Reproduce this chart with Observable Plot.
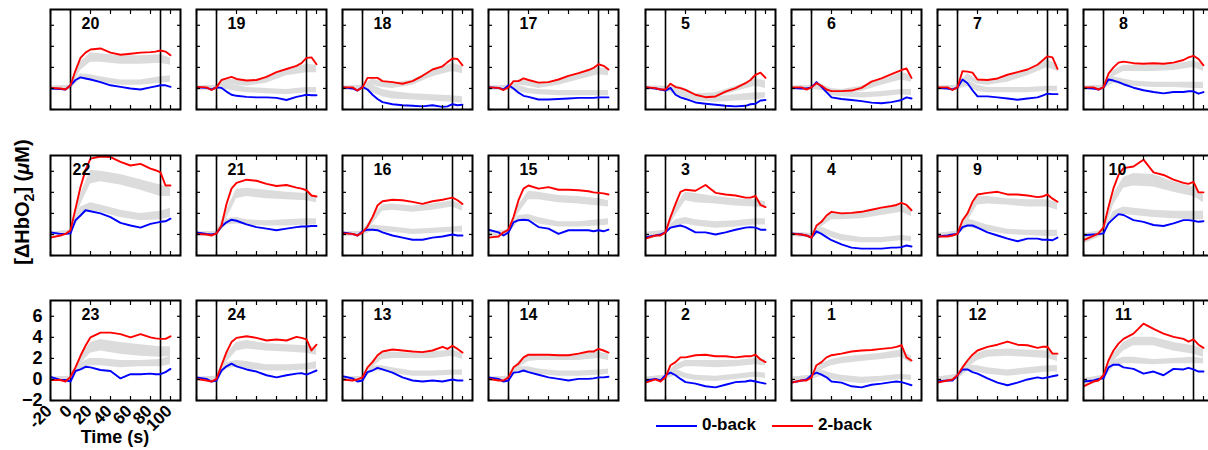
<!DOCTYPE html>
<html><head><meta charset="utf-8">
<script src="https://cdn.jsdelivr.net/npm/d3@7"></script>
<script src="https://cdn.jsdelivr.net/npm/@observablehq/plot@0.6"></script>
<style>
body{margin:0;background:#fff;font-family:"Liberation Sans",Arial,sans-serif;}
#chart{position:relative;width:1208px;height:450px;overflow:hidden;background:#fff;}
.panel{position:absolute;}
.lbl{position:absolute;font-weight:bold;color:#000;white-space:nowrap;}
</style></head><body><div id="chart"></div>
<script>
// ---- time grids (s) ----
const t = [-20,-10,-5,0,5,10,15,20,30,40,50,60,70,80,85,90,95,100];
const tBand = [-20,0,10,20,30,50,70,90,100];
const xTicks = [-20,0,20,40,60,80,100];
const yTicks = [-2,0,2,4,6];
const blockEdges = [0,90];
const panelOrder = [[20,19,18,17,5,6,7,8],[22,21,16,15,3,4,9,10],[23,24,13,14,2,1,12,11]];

// ---- row 1 ----
const red20=[0.05,0,-0.1,0.3,1.7,2.9,3.4,3.7,3.8,3.4,3.2,3.3,3.4,3.45,3.5,3.6,3.5,3.15];
const blue20=[0,-0.05,-0.1,0.3,0.8,1.05,0.95,0.85,0.6,0.3,0.15,0.0,-0.1,0.1,0.2,0.3,0.3,0.15];
const redLo20=[-0.2,-0.1,1.7,2.5,2.5,2.3,2.3,2.4,2.2], redHi20=[0.2,0.3,2.5,3.4,3.3,3.1,3.1,3.2,2.9];
const blueLo20=[-0.2,-0.1,0.9,0.8,0.6,0.3,0.3,0.5,0.6], blueHi20=[0.2,0.3,1.4,1.3,1.1,0.8,0.8,1.1,1.2];

const red19=[0.15,0.1,-0.15,0.1,0.8,0.95,1.1,0.9,0.75,0.8,1.1,1.55,1.85,2.15,2.4,2.9,2.95,2.3];
const blue19=[0.1,0.05,-0.1,0.1,0.05,-0.3,-0.6,-0.7,-0.8,-0.85,-0.85,-0.9,-1.1,-0.8,-0.7,-0.6,-0.65,-0.65];
const redLo19=[-0.2,-0.1,0.4,0.3,0.2,0.5,1.2,1.5,1.5], redHi19=[0.2,0.3,0.9,0.8,0.7,1.0,1.8,2.3,2.2];
const blueLo19=[-0.2,-0.1,-0.1,-0.3,-0.4,-0.5,-0.6,-0.4,-0.4], blueHi19=[0.2,0.3,0.4,0.3,0.1,0.0,-0.1,0.1,0.1];

const red18=[0.1,0.1,-0.2,0.1,1.0,1.0,1.0,0.7,0.6,0.45,0.7,1.2,1.8,2.1,2.5,2.85,2.8,2.2];
const blue18=[0.1,0,-0.2,0.15,-0.1,-0.6,-1.0,-1.3,-1.5,-1.6,-1.65,-1.7,-1.6,-1.75,-1.7,-1.5,-1.6,-1.55];
const redLo18=[-0.2,-0.1,0.3,0.1,0.0,0.3,1.1,1.6,1.4], redHi18=[0.2,0.3,0.9,0.6,0.5,0.8,1.7,2.4,2.1];
const blueLo18=[-0.2,-0.1,-0.4,-0.8,-1.0,-1.1,-1.2,-1.3,-1.4], blueHi18=[0.2,0.3,0.3,-0.1,-0.3,-0.5,-0.6,-0.7,-0.8];

const red17=[0.1,0.05,-0.15,0.1,0.7,0.7,0.95,0.8,0.55,0.6,0.85,1.2,1.45,1.75,1.95,2.3,2.15,1.8];
const blue17=[0.1,0.05,-0.1,0.3,0.0,-0.4,-0.7,-0.8,-1.05,-1.05,-1.0,-0.95,-0.9,-0.9,-0.9,-0.85,-0.85,-0.85];
const redLo17=[-0.2,-0.1,0.3,0.2,0.0,0.3,0.8,1.3,1.2], redHi17=[0.2,0.3,0.8,0.7,0.5,0.8,1.4,2.0,1.8];
const blueLo17=[-0.2,-0.1,-0.3,-0.5,-0.6,-0.7,-0.7,-0.7,-0.7], blueHi17=[0.2,0.3,0.3,0.0,-0.1,-0.2,-0.2,-0.2,-0.2];

const red5=[0.13,0.03,-0.1,-0.1,0.45,0.13,0.03,-0.13,-0.6,-0.83,-0.76,-0.3,0.03,0.5,0.8,1.3,1.5,1.0];
const blue5=[0.1,0,-0.1,-0.2,0.05,-0.6,-0.85,-1.0,-1.33,-1.45,-1.55,-1.65,-1.7,-1.65,-1.5,-1.45,-1.15,-1.1];
const redLo5=[-0.2,-0.2,-0.1,-0.4,-0.9,-0.9,-0.3,0.2,0.0], redHi5=[0.2,0.2,0.3,0.0,-0.5,-0.4,0.2,0.9,0.7];
const blueLo5=[-0.2,-0.2,-0.6,-0.9,-1.2,-1.3,-1.2,-1.1,-0.9], blueHi5=[0.2,0.2,-0.1,-0.4,-0.8,-0.8,-0.6,-0.4,-0.4];

const red6=[0.1,0.1,-0.1,0.1,0.5,0.25,-0.1,-0.25,-0.25,-0.2,0.05,0.65,0.95,1.35,1.55,1.75,1.9,1.0];
const blue6=[0.05,0,0,0.1,0.6,0.15,-0.35,-0.85,-1.0,-1.1,-1.2,-1.35,-1.4,-1.3,-1.2,-1.1,-0.85,-0.95];
const redLo6=[-0.2,-0.1,0.0,-0.4,-0.5,-0.3,0.3,0.8,0.6], redHi6=[0.2,0.3,0.4,0.0,-0.1,0.2,0.8,1.5,1.3];
const blueLo6=[-0.2,-0.1,-0.2,-0.7,-0.8,-0.9,-0.8,-0.6,-0.7], blueHi6=[0.2,0.3,0.4,-0.2,-0.3,-0.4,-0.3,-0.1,-0.1];

const red7=[0.1,0.1,-0.15,0.1,1.65,1.6,1.5,0.85,0.8,0.95,1.3,1.55,1.8,2.25,2.65,3.05,2.95,1.85];
const blue7=[0.05,0,-0.1,0.1,0.85,0.5,-0.17,-0.75,-0.75,-0.85,-0.95,-1.08,-0.95,-0.85,-0.68,-0.5,-0.54,-0.54];
const redLo7=[-0.2,-0.1,0.8,0.4,0.3,0.6,1.2,2.0,1.6], redHi7=[0.2,0.3,1.4,0.8,0.7,1.1,1.8,2.7,2.3];
const blueLo7=[-0.2,-0.1,0.2,-0.3,-0.4,-0.4,-0.4,-0.3,-0.3], blueHi7=[0.2,0.3,0.8,0.3,0.1,0.1,0.1,0.2,0.2];

const red8=[0.1,0.1,-0.1,0.1,1.4,2.0,2.45,2.55,2.4,2.35,2.4,2.35,2.45,2.7,2.95,3.1,2.8,2.2];
const blue8=[0.05,0,-0.1,0.1,0.85,0.75,0.6,0.4,0.07,-0.17,-0.34,-0.47,-0.34,-0.34,-0.27,-0.27,-0.5,-0.34];
const redLo8=[-0.2,-0.1,1.1,1.6,1.6,1.6,1.7,2.0,1.6], redHi8=[0.2,0.3,1.7,2.2,2.2,2.2,2.3,2.6,2.3];
const blueLo8=[-0.2,-0.1,0.5,0.3,0.2,0.1,0.1,0.0,0.0], blueHi8=[0.2,0.3,1.1,0.9,0.7,0.6,0.6,0.6,0.6];

// ---- row 2 ----
const red22=[-0.3,-0.1,0.05,0.4,2.45,4.5,6.1,7.2,7.4,7.35,6.9,6.55,6.7,6.25,6.1,5.9,4.65,4.65];
const blue22=[0.2,0.05,0.05,0.1,1.35,1.8,2.3,2.2,2.0,1.65,1.1,0.85,0.65,1.0,1.1,1.2,1.25,1.5];
const redLo22=[-0.3,0.0,2.8,4.8,5.0,4.7,4.2,3.6,3.6], redHi22=[0.2,0.4,3.8,6.1,6.0,5.7,5.2,4.7,4.4];
const blueLo22=[-0.2,0.0,1.7,2.3,2.1,1.6,1.3,1.4,1.6], blueHi22=[0.2,0.4,2.6,3.0,2.8,2.3,2.0,2.2,2.5];

const red21=[0.05,0,-0.1,0.1,0.85,2.9,4.35,4.9,5.2,5.1,4.8,4.6,4.7,4.45,4.35,4.2,3.7,3.6];
const blue21=[0.2,0.05,0,0.1,0.75,1.15,1.4,1.3,0.95,0.7,0.55,0.4,0.55,0.7,0.75,0.75,0.8,0.8];
const redLo21=[-0.2,-0.1,1.5,3.4,3.6,3.4,3.3,3.2,3.0], redHi21=[0.2,0.3,2.3,4.3,4.4,4.2,4.0,3.9,3.6];
const blueLo21=[-0.2,-0.1,0.9,1.0,0.9,0.8,0.8,0.9,0.9], blueHi21=[0.2,0.3,1.5,1.6,1.4,1.3,1.4,1.5,1.5];

const red16=[0.1,0.05,-0.1,0.2,0.75,1.65,2.75,3.15,3.3,3.25,3.1,2.9,3.15,3.3,3.4,3.5,3.25,2.9];
const blue16=[0.2,0.05,-0.1,0.3,0.45,0.45,0.4,0.2,-0.1,-0.3,-0.5,-0.5,-0.3,-0.2,-0.1,0,-0.1,-0.1];
const redLo16=[-0.2,-0.1,1.0,2.2,2.3,2.1,2.3,2.6,2.2], redHi16=[0.2,0.3,1.7,2.8,2.9,2.7,2.9,3.2,2.8];
const blueLo16=[-0.2,-0.1,0.3,0.2,0.2,0.0,0.1,0.2,0.2], blueHi16=[0.2,0.3,0.9,0.8,0.7,0.5,0.6,0.7,0.8];

const red15=[-0.3,-0.2,0.2,0.45,1.65,3.25,4.35,4.65,4.35,4.5,4.25,4.25,4.2,4.1,4.0,3.95,3.9,3.8];
const blue15=[0.45,0.2,-0.1,0.2,1.15,1.35,1.4,1.35,0.7,0.55,0.05,0.4,0.4,0.4,0.3,0.4,0.3,0.45];
const redLo15=[-0.3,0.0,2.0,3.3,3.3,3.0,2.9,2.7,2.6], redHi15=[0.2,0.4,2.8,4.1,4.0,3.7,3.6,3.4,3.2];
const blueLo15=[-0.2,0.0,1.2,1.3,1.0,0.7,0.7,0.8,0.9], blueHi15=[0.3,0.4,1.8,1.9,1.6,1.2,1.2,1.4,1.5];

const red3=[-0.4,-0.1,-0.1,0.2,1.65,2.9,4.05,4.25,4.15,4.7,3.95,3.8,3.7,3.5,3.5,3.65,2.8,2.6];
const blue3=[-0.25,-0.1,0,0.2,0.65,0.75,0.85,0.7,0.2,0.2,0,0.2,0.45,0.65,0.7,0.65,0.45,0.45];
const redLo3=[-0.4,0.0,1.8,3.2,3.0,2.9,2.7,2.6,2.5], redHi3=[0.1,0.4,2.7,4.0,3.9,3.6,3.4,3.3,3.1];
const blueLo3=[-0.3,0.0,0.8,1.0,0.8,0.6,0.7,0.9,0.9], blueHi3=[0.2,0.4,1.4,1.6,1.4,1.2,1.3,1.5,1.5];

const red4=[0.05,0,-0.1,-0.3,0.85,1.2,1.8,2.15,2.0,2.05,2.15,2.35,2.55,2.7,2.8,3.0,2.8,2.3];
const blue4=[0.1,0,-0.1,-0.3,0.3,0.05,-0.25,-0.55,-0.95,-1.25,-1.35,-1.35,-1.35,-1.25,-1.25,-1.2,-1.05,-1.15];
const redLo4=[-0.2,-0.3,0.7,1.4,1.4,1.5,1.8,2.1,1.7], redHi4=[0.2,0.1,1.3,2.0,2.0,2.1,2.4,2.8,2.3];
const blueLo4=[-0.2,-0.3,0.1,-0.3,-0.6,-0.8,-0.8,-0.6,-0.7], blueHi4=[0.2,0.1,0.7,0.3,0.0,-0.3,-0.3,-0.1,-0.2];

const red9=[-0.2,-0.2,-0.1,0.05,1.35,2.0,3.1,3.8,3.95,4.05,3.8,3.8,3.7,3.55,3.6,3.8,3.4,3.1];
const blue9=[-0.2,-0.1,0,0.05,0.7,0.85,0.85,0.65,0.2,-0.1,-0.4,-0.65,-0.4,-0.4,-0.5,-0.5,-0.55,-0.3];
const redLo9=[-0.3,-0.1,1.2,2.8,2.9,2.8,2.6,2.6,2.3], redHi9=[0.1,0.3,2.0,3.6,3.6,3.4,3.3,3.3,3.0];
const blueLo9=[-0.3,-0.1,0.7,0.5,0.3,0.0,-0.1,-0.2,-0.2], blueHi9=[0.1,0.3,1.5,1.2,0.9,0.5,0.4,0.4,0.4];

const red10=[-0.55,-0.13,0.1,0.67,2.6,4.4,5.65,6.3,6.45,7.1,5.9,5.65,5.2,4.9,4.8,5.0,4.0,4.0];
const blue10=[-0.07,0,0.03,0.1,1.05,1.5,1.93,1.85,1.36,1.2,0.9,0.8,1.05,1.36,1.36,1.3,1.2,1.25];
const redLo10=[-0.9,-0.1,2.8,4.4,4.6,4.5,4.0,3.6,3.0], redHi10=[-0.2,0.4,3.8,5.4,5.8,5.7,5.0,4.5,3.8];
const blueLo10=[-0.5,0.0,1.5,1.9,1.8,1.6,1.5,1.4,1.4], blueHi10=[0.1,0.4,2.2,2.6,2.5,2.3,2.2,2.2,2.2];

// ---- row 3 ----
const red23=[-0.06,-0.05,-0.2,0.25,1.15,2.25,3.2,4.0,4.45,4.45,4.3,4.0,4.3,4.0,3.9,3.85,3.85,4.1];
const blue23=[0.25,-0.05,-0.05,-0.2,0.8,0.95,1.2,1.15,0.9,0.8,0.1,0.5,0.5,0.55,0.5,0.5,0.7,1.0];
const redLo23=[-0.2,-0.1,1.5,2.5,2.7,2.4,2.2,2.1,2.2], redHi23=[0.2,0.3,2.2,3.5,3.8,3.5,3.3,3.1,3.1];
const blueLo23=[-0.2,-0.1,1.0,1.3,1.3,1.1,1.2,1.2,1.4], blueHi23=[0.2,0.3,1.6,2.0,2.0,1.8,1.8,1.9,2.2];

const red24=[0.05,-0.1,-0.2,0.05,1.35,2.6,3.55,3.95,4.1,3.95,3.7,3.8,3.7,4.05,3.95,3.8,2.75,3.3];
const blue24=[0.2,0.05,-0.2,-0.1,0.85,1.25,1.5,1.25,0.95,0.75,0.4,0.2,0.4,0.55,0.6,0.45,0.65,0.85];
const redLo24=[-0.2,-0.1,1.6,2.7,2.9,2.7,2.6,2.5,2.3], redHi24=[0.2,0.3,2.4,3.5,3.7,3.4,3.3,3.2,3.0];
const blueLo24=[-0.2,-0.1,1.0,1.2,1.0,0.8,0.8,0.9,1.0], blueHi24=[0.2,0.3,1.6,1.8,1.7,1.4,1.4,1.5,1.7];

const red13=[0,-0.1,0,0.2,1.15,1.65,2.3,2.65,2.85,2.75,2.65,2.6,2.75,3.1,2.9,3.2,2.9,2.55];
const blue13=[0.3,0.1,-0.2,-0.1,0.7,0.85,1.1,0.95,0.65,0.2,-0.1,-0.2,-0.1,-0.2,-0.1,0,-0.1,-0.1];
const redLo13=[-0.2,-0.1,1.2,1.9,2.0,2.0,2.0,2.2,1.9], redHi13=[0.2,0.3,1.8,2.5,2.6,2.5,2.6,2.8,2.5];
const blueLo13=[-0.2,-0.1,0.8,0.8,0.6,0.3,0.3,0.4,0.4], blueHi13=[0.2,0.3,1.3,1.3,1.1,0.8,0.8,0.9,0.9];

const red14=[0.05,-0.1,-0.1,0.2,1.15,1.5,2.1,2.35,2.35,2.35,2.3,2.3,2.45,2.65,2.65,2.9,2.75,2.55];
const blue14=[0.2,0.05,-0.2,-0.1,0.65,0.7,0.85,0.7,0.45,0.2,0.05,-0.1,0.05,0.05,0.1,0.2,0.2,0.25];
const redLo14=[-0.2,-0.1,1.1,1.7,1.8,1.8,1.8,2.0,1.8], redHi14=[0.2,0.3,1.7,2.3,2.3,2.3,2.4,2.6,2.4];
const blueLo14=[-0.2,-0.1,0.7,0.7,0.5,0.3,0.3,0.4,0.5], blueHi14=[0.2,0.3,1.2,1.2,1.0,0.8,0.8,0.9,1.0];

const red2=[-0.3,0,-0.2,0.2,1.35,1.65,2.1,2.1,2.3,2.35,2.2,2.2,2.1,2.2,2.2,2.35,1.9,1.65];
const blue2=[-0.1,0.05,-0.1,0.4,0.65,0.4,0.05,-0.25,-0.4,-0.65,-0.75,-0.5,-0.25,-0.2,-0.1,-0.2,-0.3,-0.4];
const redLo2=[-0.3,0.0,0.8,1.2,1.2,1.1,1.2,1.4,1.3], redHi2=[0.2,0.4,1.4,1.8,1.8,1.8,1.8,2.0,1.9];
const blueLo2=[-0.3,0.0,0.4,0.1,-0.1,-0.2,0.0,0.2,0.1], blueHi2=[0.2,0.4,1.0,0.6,0.4,0.3,0.5,0.7,0.6];

const red1=[-0.3,-0.1,-0.1,0.2,1.35,1.65,2.1,2.3,2.45,2.65,2.75,2.8,2.9,3.0,3.1,3.25,2.1,1.8];
const blue1=[-0.3,-0.1,0,0.4,0.65,0.45,0.2,-0.2,-0.3,-0.65,-0.75,-0.5,-0.4,-0.25,-0.2,-0.25,-0.4,-0.55];
const redLo1=[-0.3,0.0,0.9,1.3,1.5,1.7,1.9,2.1,1.5], redHi1=[0.2,0.4,1.5,1.9,2.1,2.3,2.5,2.8,2.2];
const blueLo1=[-0.3,0.0,0.3,0.0,-0.2,-0.4,-0.2,0.0,-0.1], blueHi1=[0.2,0.4,0.9,0.6,0.4,0.2,0.3,0.5,0.4];

const red12=[-0.3,-0.1,0,0.4,1.15,1.8,2.35,2.75,3.1,3.3,3.6,3.3,3.25,3.0,3.1,3.1,2.45,2.45];
const blue12=[-0.2,-0.1,-0.1,0.4,0.95,0.95,0.7,0.55,0.1,-0.3,-0.55,-0.3,0,0.2,0.1,0.2,0.3,0.4];
const redLo12=[-0.3,0.0,1.1,1.8,2.1,2.2,2.1,2.0,1.7], redHi12=[0.2,0.5,1.7,2.5,2.8,2.9,2.8,2.7,2.4];
const blueLo12=[-0.3,0.0,0.8,0.7,0.5,0.3,0.5,0.7,0.7], blueHi12=[0.2,0.5,1.4,1.3,1.1,0.9,1.1,1.3,1.3];

const red11=[-0.65,-0.2,-0.1,0.4,1.8,2.75,3.4,3.85,4.35,5.3,4.8,4.35,4.05,3.85,3.6,3.8,3.3,3.0];
const blue11=[-0.2,-0.1,0.05,0.1,1.15,1.4,1.4,1.15,1.0,0.55,0.75,0.4,1.0,0.95,1.1,0.95,0.75,0.75];
const redLo11=[-0.8,0.0,1.7,2.7,3.2,3.2,2.7,2.4,2.1], redHi11=[-0.1,0.4,2.4,3.5,4.0,4.0,3.5,3.2,2.9];
const blueLo11=[-0.4,0.0,1.2,1.5,1.5,1.4,1.5,1.5,1.5], blueHi11=[0.1,0.4,1.8,2.1,2.1,1.9,2.0,2.1,2.0];

// ---- assemble (lookup built from the arrays above) ----
const src = {
  20:[red20,blue20,redLo20,redHi20,blueLo20,blueHi20],19:[red19,blue19,redLo19,redHi19,blueLo19,blueHi19],
  18:[red18,blue18,redLo18,redHi18,blueLo18,blueHi18],17:[red17,blue17,redLo17,redHi17,blueLo17,blueHi17],
  5:[red5,blue5,redLo5,redHi5,blueLo5,blueHi5],6:[red6,blue6,redLo6,redHi6,blueLo6,blueHi6],
  7:[red7,blue7,redLo7,redHi7,blueLo7,blueHi7],8:[red8,blue8,redLo8,redHi8,blueLo8,blueHi8],
  22:[red22,blue22,redLo22,redHi22,blueLo22,blueHi22],21:[red21,blue21,redLo21,redHi21,blueLo21,blueHi21],
  16:[red16,blue16,redLo16,redHi16,blueLo16,blueHi16],15:[red15,blue15,redLo15,redHi15,blueLo15,blueHi15],
  3:[red3,blue3,redLo3,redHi3,blueLo3,blueHi3],4:[red4,blue4,redLo4,redHi4,blueLo4,blueHi4],
  9:[red9,blue9,redLo9,redHi9,blueLo9,blueHi9],10:[red10,blue10,redLo10,redHi10,blueLo10,blueHi10],
  23:[red23,blue23,redLo23,redHi23,blueLo23,blueHi23],24:[red24,blue24,redLo24,redHi24,blueLo24,blueHi24],
  13:[red13,blue13,redLo13,redHi13,blueLo13,blueHi13],14:[red14,blue14,redLo14,redHi14,blueLo14,blueHi14],
  2:[red2,blue2,redLo2,redHi2,blueLo2,blueHi2],1:[red1,blue1,redLo1,redHi1,blueLo1,blueHi1],
  12:[red12,blue12,redLo12,redHi12,blueLo12,blueHi12],11:[red11,blue11,redLo11,redHi11,blueLo11,blueHi11]
};

// ---- layout ----
const W = 130, H = 100, M = 4;
const colLefts = [50,196,342,488,645,791,937,1083];
const rowTops = [9,155,300];
const labelDx = {22:31, 10:34};
const RED = "#ff0000", BLUE = "#0000ff", GRAY = "#dcdcdc";
const font = '"Liberation Sans", Arial, sans-serif';

const chart = document.getElementById("chart");

function panel(id, showAxes) {
  const [r, b, rlo, rhi, blo, bhi] = src[id];
  const line = (vs) => t.map((tt, i) => ({t: tt, v: vs[i]}));
  const band = (lo, hi) => tBand.map((tt, i) => ({t: tt, lo: lo[i], hi: hi[i]}));
  const marks = [
    Plot.areaY(band(rlo, rhi), {x: "t", y1: "lo", y2: "hi", fill: GRAY, clip: true}),
    Plot.areaY(band(blo, bhi), {x: "t", y1: "lo", y2: "hi", fill: GRAY, clip: true}),
    Plot.ruleX(blockEdges, {stroke: "black", strokeWidth: 1.6}),
    Plot.lineY(line(b), {x: "t", y: "v", stroke: BLUE, strokeWidth: 1.9, clip: true}),
    Plot.lineY(line(r), {x: "t", y: "v", stroke: RED, strokeWidth: 1.9, clip: true}),
    Plot.axisX(xTicks, {anchor: "bottom", tickSize: -4, fill: "none", stroke: "black", strokeWidth: 1.2}),
    Plot.axisX(xTicks, {anchor: "top", tickSize: -4, fill: "none", stroke: "black", strokeWidth: 1.2}),
    Plot.axisY(yTicks, {anchor: "left", tickSize: -4, fill: "none", stroke: "black", strokeWidth: 1.2}),
    Plot.axisY(yTicks, {anchor: "right", tickSize: -4, fill: "none", stroke: "black", strokeWidth: 1.2}),
    Plot.frame({stroke: "black", strokeWidth: 2}),
    Plot.text([id], {frameAnchor: "top-left", dx: labelDx[id] ?? 40, dy: 14, text: d => String(d),
      textAnchor: "middle", lineAnchor: "middle", fontSize: 16, fontWeight: "bold", fill: "black"})
  ];
  if (showAxes) {
    marks.push(
      Plot.text(xTicks, {x: d => d, frameAnchor: "bottom", text: d => String(d), rotate: -45,
        textAnchor: "end", lineAnchor: "top", dx: -6, dy: 3, fontSize: 17, fontWeight: "bold", fill: "black"}),
      Plot.axisY(yTicks, {anchor: "left", tickSize: 0, tickPadding: 8, label: null,
        fontSize: 18, fontWeight: "bold", fill: "black"})
    );
  }
  return Plot.plot({
    width: W + 2*M, height: H + 2*M,
    marginLeft: M, marginRight: M, marginTop: M, marginBottom: M,
    x: {domain: [-20, 110], axis: null},
    y: {domain: [-2, 7.5], axis: null},
    style: {overflow: "visible", background: "transparent", fontFamily: font},
    marks
  });
}

panelOrder.forEach((row, ri) => row.forEach((id, ci) => {
  const div = document.createElement("div");
  div.className = "panel";
  div.style.left = (colLefts[ci] - M) + "px";
  div.style.top = (rowTops[ri] - M) + "px";
  div.style.width = (W + 2*M) + "px";
  div.appendChild(panel(id, ri === 2 && ci === 0));
  chart.appendChild(div);
}));

// ---- axis titles and legend ----
function addLabel(html, css) {
  const d = document.createElement("div");
  d.className = "lbl";
  d.innerHTML = html;
  Object.assign(d.style, css);
  chart.appendChild(d);
  return d;
}
addLabel("Time (s)", {left: "65px", width: "100px", textAlign: "center", top: "427px", fontSize: "18px"});
addLabel("[ΔHbO<sub style='font-size:14px'>2</sub>] (<i>μ</i>M)", {left: "-78px", top: "190px", width: "200px", height: "24px",
  textAlign: "center", fontSize: "20px", lineHeight: "24px", transform: "rotate(-90deg)"});

const legendItems = [["0-back", BLUE, 656], ["2-back", RED, 772]];
legendItems.forEach(([name, color, x]) => {
  const ln = document.createElement("div");
  Object.assign(ln.style, {position: "absolute", left: x + "px", top: "425px", width: "41px", height: "2px", background: color});
  chart.appendChild(ln);
  addLabel(name, {left: (x + 46) + "px", top: "415px", fontSize: "17px", lineHeight: "20px"});
});
</script>
</body></html>
